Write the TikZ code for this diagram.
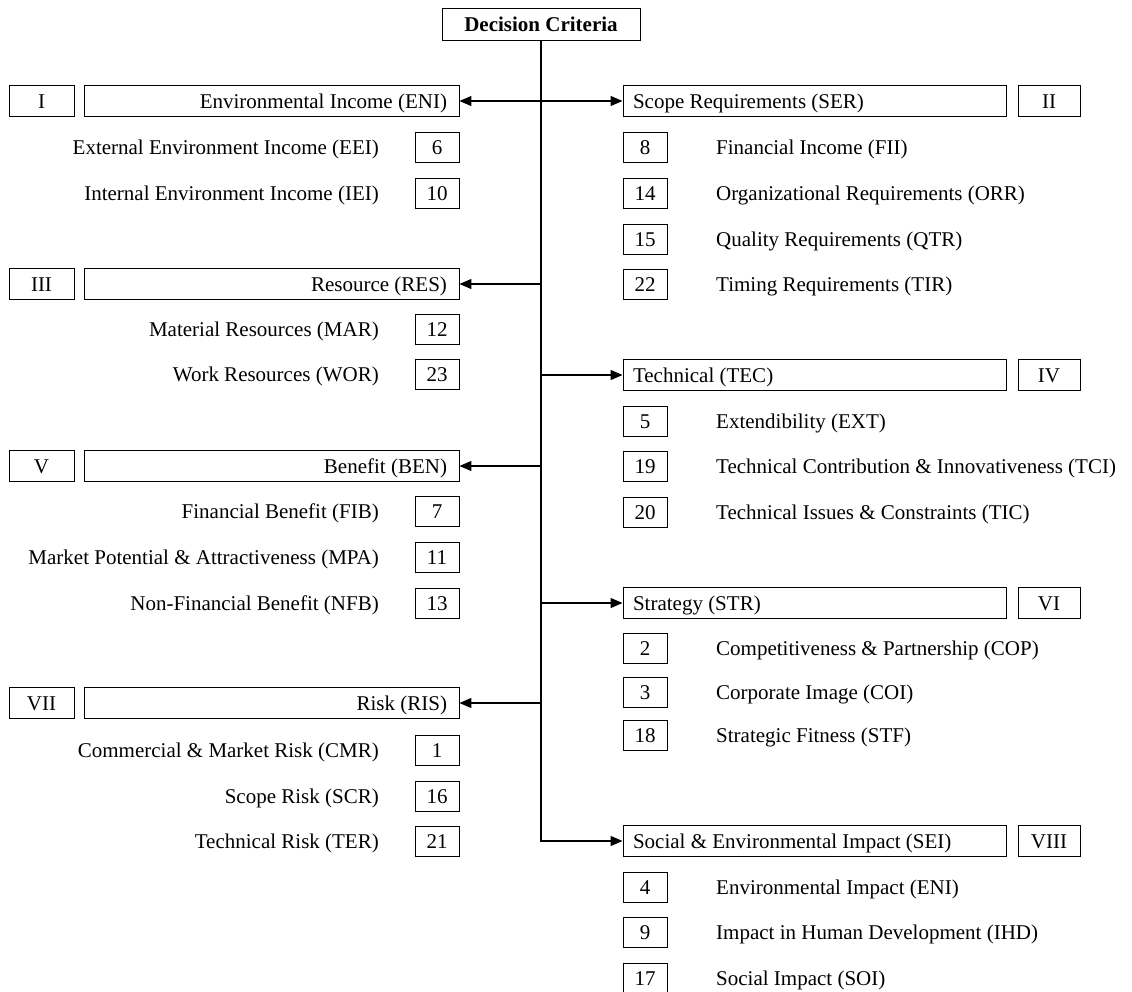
\documentclass[tikz,border=0pt]{standalone}
\usepackage{fontspec}
\setmainfont{Liberation Serif}
\usetikzlibrary{arrows.meta}
\begin{document}
\begin{tikzpicture}[x=1pt,y=-1pt,
  font=\fontsize{21}{25}\selectfont,
  every node/.style={inner sep=0pt, text height=16.2pt, text depth=2pt},
  box/.style={draw, line width=0.9pt, minimum height=31pt},
  topbox/.style={box, minimum width=198pt, minimum height=32pt, font=\fontsize{21}{25}\selectfont\bfseries},
  leftmain/.style={box, inner xsep=12pt, text width=351pt, align=flush right},
  rightmain/.style={box, inner xsep=10pt, text width=363pt, align=flush left},
  lroman/.style={box, minimum width=65pt},
  rroman/.style={box, minimum width=62pt},
  numbox/.style={box, minimum width=44pt, minimum height=30pt},
  litem/.style={anchor=east},
  ritem/.style={anchor=west},
  conn/.style={line width=1.2pt},
  tip/.style={conn, -{Triangle[length=12pt,width=10pt]}}
]
\useasboundingbox (0,0) rectangle (1132,991);

% root
\node[topbox] (dc) at (541,24) {Decision Criteria};

% ---------- left column ----------
\node[lroman] (r1) at (41.5,101) {I};
\node[leftmain] (eni) at (271.5,101) {Environmental Income (ENI)};
\node[numbox] (n6) at (437,147) {6};
\node[litem] (eei) at (379,147) {External Environment Income (EEI)};
\node[numbox] (n10) at (437,193) {10};
\node[litem] (iei) at (379,193) {Internal Environment Income (IEI)};

\node[lroman] (r3) at (41.5,284) {III};
\node[leftmain] (res) at (271.5,284) {Resource (RES)};
\node[numbox] (n12) at (437,329) {12};
\node[litem] (mar) at (379,329) {Material Resources (MAR)};
\node[numbox] (n23) at (437,374) {23};
\node[litem] (wor) at (379,374) {Work Resources (WOR)};

\node[lroman] (r5) at (41.5,466) {V};
\node[leftmain] (ben) at (271.5,466) {Benefit (BEN)};
\node[numbox] (n7) at (437,511) {7};
\node[litem] (fib) at (379,511) {Financial Benefit (FIB)};
\node[numbox] (n11) at (437,557) {11};
\node[litem] (mpa) at (379,557) {Market Potential \& Attractiveness (MPA)};
\node[numbox] (n13) at (437,603) {13};
\node[litem] (nfb) at (379,603) {Non-Financial Benefit (NFB)};

\node[lroman] (r7) at (41.5,703) {VII};
\node[leftmain] (ris) at (271.5,703) {Risk (RIS)};
\node[numbox] (n1) at (437,750) {1};
\node[litem] (cmr) at (379,750) {Commercial \& Market Risk (CMR)};
\node[numbox] (n16) at (437,796) {16};
\node[litem] (scr) at (379,796) {Scope Risk (SCR)};
\node[numbox] (n21) at (437,841) {21};
\node[litem] (ter) at (379,841) {Technical Risk (TER)};

% ---------- right column ----------
\node[rightmain] (ser) at (814.5,101) {Scope Requirements (SER)};
\node[rroman] (r2) at (1049,101) {II};
\node[numbox] (n8) at (645,147) {8};
\node[ritem] (fii) at (716,147) {Financial Income (FII)};
\node[numbox] (n14) at (645,193) {14};
\node[ritem] (orr) at (716,193) {Organizational Requirements (ORR)};
\node[numbox] (n15) at (645,239) {15};
\node[ritem] (qtr) at (716,239) {Quality Requirements (QTR)};
\node[numbox] (n22) at (645,284) {22};
\node[ritem] (tir) at (716,284) {Timing Requirements (TIR)};

\node[rightmain] (tec) at (814.5,375) {Technical (TEC)};
\node[rroman] (r4) at (1049,375) {IV};
\node[numbox] (n5) at (645,421) {5};
\node[ritem] (ext) at (716,421) {Extendibility (EXT)};
\node[numbox] (n19) at (645,466) {19};
\node[ritem] (tci) at (716,466) {Technical Contribution \& Innovativeness (TCI)};
\node[numbox] (n20) at (645,512) {20};
\node[ritem] (tic) at (716,512) {Technical Issues \& Constraints (TIC)};

\node[rightmain] (str) at (814.5,603) {Strategy (STR)};
\node[rroman] (r6) at (1049,603) {VI};
\node[numbox] (n2) at (645,648) {2};
\node[ritem] (cop) at (716,648) {Competitiveness \& Partnership (COP)};
\node[numbox] (n3) at (645,692) {3};
\node[ritem] (coi) at (716,692) {Corporate Image (COI)};
\node[numbox] (n18) at (645,735) {18};
\node[ritem] (stf) at (716,735) {Strategic Fitness (STF)};

\node[rightmain] (sei) at (814.5,841) {Social \& Environmental Impact (SEI)};
\node[rroman] (r8) at (1049,841) {VIII};
\node[numbox] (n4) at (645,887) {4};
\node[ritem] (eni2) at (716,887) {Environmental Impact (ENI)};
\node[numbox] (n9) at (645,932) {9};
\node[ritem] (ihd) at (716,932) {Impact in Human Development (IHD)};
\node[numbox] (n17) at (645,978) {17};
\node[ritem] (soi) at (716,978) {Social Impact (SOI)};

% ---------- connectors ----------
\draw[tip] (dc.south) |- (sei.west);
\draw[conn, {Triangle[length=12pt,width=10pt]}-{Triangle[length=12pt,width=10pt]}] (eni.east) -- (ser.west);
\draw[tip] (dc.south |- res.east) -- (res.east);
\draw[tip] (dc.south |- ben.east) -- (ben.east);
\draw[tip] (dc.south |- ris.east) -- (ris.east);
\draw[tip] (dc.south |- tec.west) -- (tec.west);
\draw[tip] (dc.south |- str.west) -- (str.west);
\end{tikzpicture}
\end{document}
